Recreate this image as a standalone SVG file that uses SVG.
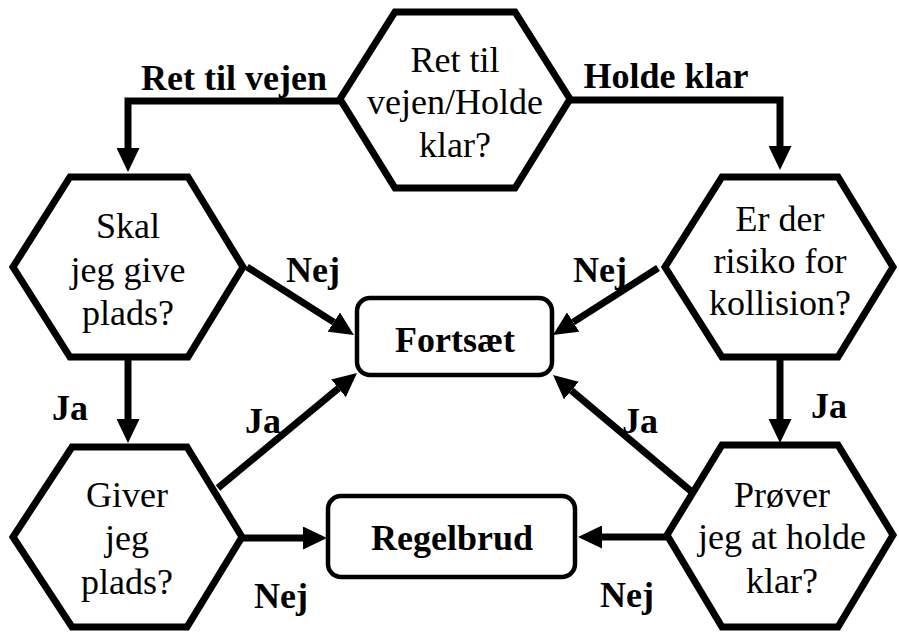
<svg xmlns="http://www.w3.org/2000/svg" width="899" height="636" viewBox="0 0 899 636">
<style>
.hex{fill:#fff;stroke:#000;stroke-width:7;stroke-linejoin:miter}
.box{fill:#fff;stroke:#000;stroke-width:4.5}
text{font-family:'Liberation Serif','DejaVu Serif',serif;font-size:36px;fill:#000;text-anchor:middle}
.b{font-weight:bold}
.c{fill:none;stroke:#000;stroke-width:7;marker-end:url(#ah)}
</style>
<defs>
<marker id="ah" markerUnits="userSpaceOnUse" markerWidth="25" markerHeight="23" refX="0" refY="11.5" orient="auto">
<path d="M0,0 L24,11.5 L0,23 Z" fill="#000"/>
</marker>
</defs>
<rect width="899" height="636" fill="#fff"/>
<g id="connectors" font-family="Liberation Serif, DejaVu Serif, serif">
<path class="c" d="M340,101 H128 V148"/>
<path class="c" d="M570,100 H780 V146"/>
<path class="c" d="M247,267 L333.7,322.1"/>
<path class="c" d="M658,268 L573.2,322.1"/>
<path class="c" d="M128,357 V419"/>
<path class="c" d="M780,357 V419"/>
<path class="c" d="M218,488 L338.5,388.3"/>
<path class="c" d="M692,492 L571.4,390.5"/>
<path class="c" d="M243,538 H303"/>
<path class="c" d="M667,537 H602"/>
<text class="b" x="234" y="90">Ret til vejen</text>
<text class="b" x="666" y="88">Holde klar</text>
<text class="b" x="313" y="282">Nej</text>
<text class="b" x="600" y="282">Nej</text>
<text class="b" x="70" y="420">Ja</text>
<text class="b" x="263" y="433">Ja</text>
<text class="b" x="829" y="418">Ja</text>
<text class="b" x="640" y="433">Ja</text>
<text class="b" x="281" y="608">Nej</text>
<text class="b" x="627" y="607">Nej</text>
</g>
<g id="start">
<polygon class="hex" points="395,12 515,12 570,99 515,188 395,188 340,99"/>
<text x="455" y="72">Ret til</text>
<text x="455" y="114">vejen/Holde</text>
<text x="455" y="157">klar?</text>
</g>
<g id="skal">
<polygon class="hex" points="70,177 188,177 243,267 188,357 70,357 13,267"/>
<text x="128" y="238">Skal</text>
<text x="128" y="282">jeg give</text>
<text x="128" y="325">plads?</text>
</g>
<g id="risiko">
<polygon class="hex" points="722,177 838,177 893,267 838,357 722,357 665,267"/>
<text x="780" y="231">Er der</text>
<text x="780" y="273">risiko for</text>
<text x="780" y="315">kollision?</text>
</g>
<g id="giver">
<polygon class="hex" points="72,447 187,447 242,537 187,627 72,627 13,537"/>
<text x="127" y="507">Giver</text>
<text x="127" y="550">jeg</text>
<text x="127" y="594">plads?</text>
</g>
<g id="prover">
<polygon class="hex" points="722,445 838,445 893,535 838,627 722,627 667,535"/>
<text x="782" y="507">Prøver</text>
<text x="782" y="549">jeg at holde</text>
<text x="782" y="593">klar?</text>
</g>
<g id="fortsaet">
<rect class="box" x="357" y="298" width="195" height="77" rx="13"/>
<text class="b" x="455" y="352">Fortsæt</text>
</g>
<g id="regelbrud">
<rect class="box" x="328" y="496" width="247" height="81" rx="13"/>
<text class="b" x="452" y="550">Regelbrud</text>
</g>
</svg>
